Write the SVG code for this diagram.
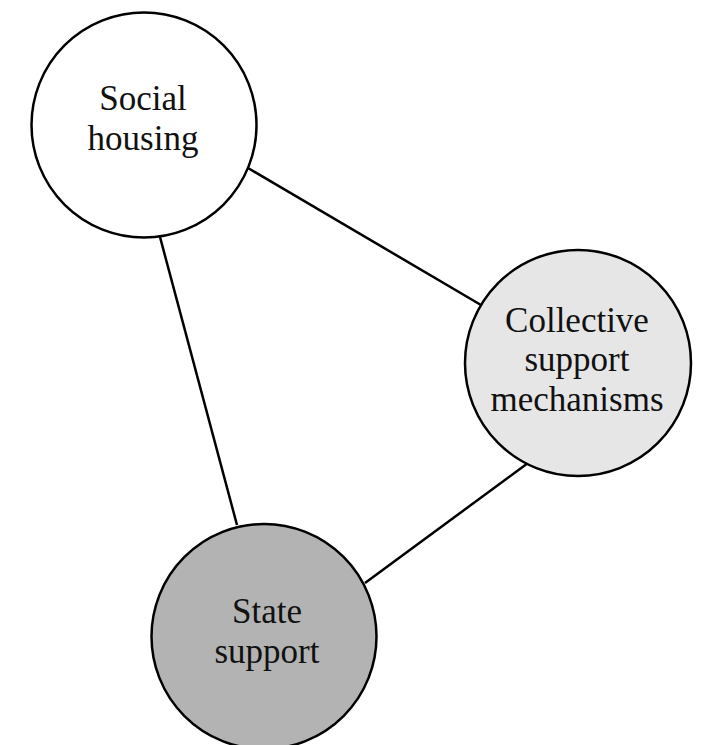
<svg xmlns="http://www.w3.org/2000/svg" width="703" height="745" viewBox="0 0 703 745">
<style>
.node{stroke:#000;stroke-width:2.5}
.edge{stroke:#000;stroke-width:2.5;fill:none}
text{font-family:"Liberation Serif","Times New Roman",serif;font-size:35px;fill:#111;text-anchor:middle}
</style>
<rect width="703" height="745" fill="#fff"/>
<g id="connectors">
<line class="edge" x1="248" y1="168" x2="481" y2="305"/>
<line class="edge" x1="160" y1="237" x2="237" y2="525"/>
<line class="edge" x1="528" y1="463" x2="365" y2="583"/>
</g>
<g id="social-housing">
<circle class="node" cx="144" cy="125" r="112.5" fill="#fff"/>
<text x="143" y="110">Social</text>
<text x="143" y="149.5">housing</text>
</g>
<g id="collective-support">
<circle class="node" cx="578" cy="363" r="113" fill="#e6e6e6"/>
<text x="577" y="332">Collective</text>
<text x="577" y="371">support</text>
<text x="577" y="411">mechanisms</text>
</g>
<g id="state-support">
<circle class="node" cx="264" cy="636.5" r="112.5" fill="#b3b3b3"/>
<text x="267" y="623">State</text>
<text x="267" y="663">support</text>
</g>
</svg>
